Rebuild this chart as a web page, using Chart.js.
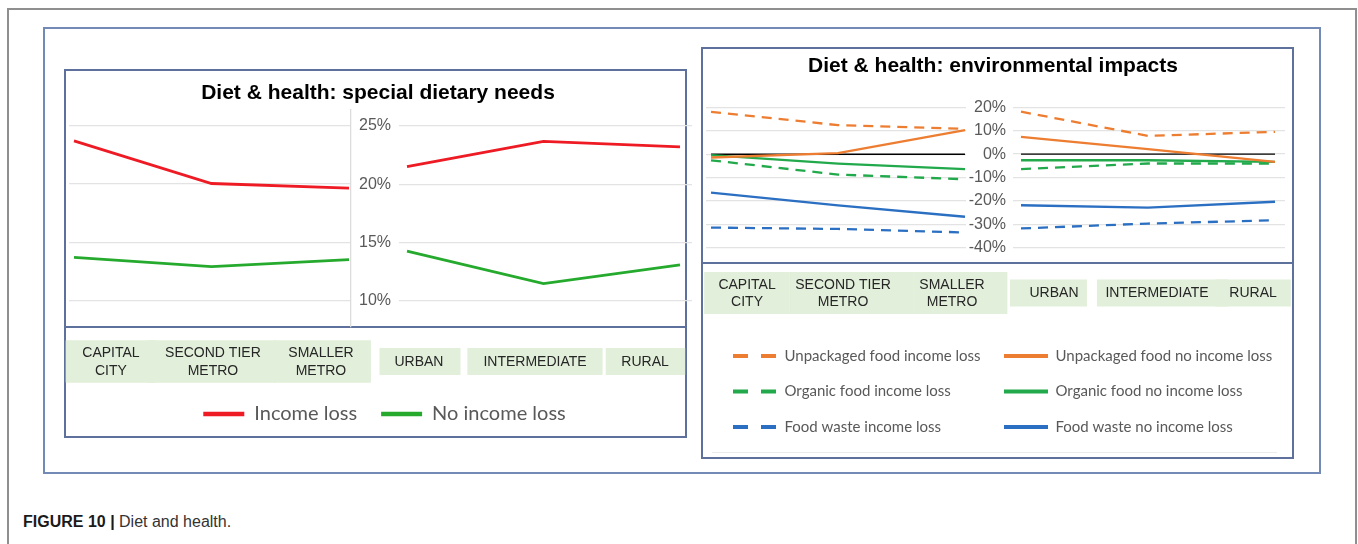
<!DOCTYPE html>
<html>
<head>
<meta charset="utf-8">
<script src="https://cdn.jsdelivr.net/npm/chart.js@4.4.1/dist/chart.umd.min.js"></script>
<style>
html,body{margin:0;padding:0;background:#fff;}
#page{position:relative;width:1358px;height:544px;overflow:hidden;background:#fff;font-family:'Liberation Sans',Arial,sans-serif;}
.abs{position:absolute;box-sizing:border-box;}
#frame{left:7px;top:8px;width:1350px;height:600px;border:2px solid #8f8f8f;}
#inner{left:43px;top:27px;width:1278px;height:447px;border:2px solid #7389b6;}
#boxL{left:64px;top:69px;width:623px;height:369px;border:2px solid #5d719c;}
#divL{left:64px;top:326px;width:623px;height:2px;background:#5d719c;}
#boxR{left:701px;top:47px;width:593px;height:412px;border:2px solid #5d719c;}
#divR{left:701px;top:262px;width:593px;height:2px;background:#5d719c;}
#faint{left:712px;top:452px;width:565px;height:1px;background:#ebebeb;}
.chart{position:absolute;}
#caption{left:23px;top:513px;font-size:16px;line-height:18px;color:#333;white-space:nowrap;}
#caption b{color:#1a1a1a;}
</style>
</head>
<body>
<div id="page">
  <div id="frame" class="abs"></div>
  <div id="inner" class="abs"></div>
  <div id="boxL" class="abs"></div>
  <div id="divL" class="abs"></div>
  <div id="boxR" class="abs"></div>
  <div id="divR" class="abs"></div>
  <div id="faint" class="abs"></div>
  <div class="chart" style="left:60px;top:100px;width:632px;height:290px;"><canvas id="cA"></canvas></div>
  <div class="chart" style="left:64px;top:65px;width:628px;height:369px;"><canvas id="cB"></canvas></div>
  <div class="chart" style="left:700px;top:90px;width:593px;height:356px;"><canvas id="cC"></canvas></div>
  <div class="chart" style="left:701px;top:48px;width:592px;height:398px;"><canvas id="cD"></canvas></div>
  <div id="caption" class="abs"><b>FIGURE 10 |</b> Diet and health.</div>
</div>
<script>
// ---------------- DATA ----------------
const metroCategories = [['CAPITAL', 'CITY'], ['SECOND TIER', 'METRO'], ['SMALLER', 'METRO']];
const ruralCategories = ['URBAN', 'INTERMEDIATE', 'RURAL'];

const specialTickLabels = ['10%', '15%', '20%', '25%'];
const envTickLabels = ['-40%', '-30%', '-20%', '-10%', '0%', '10%', '20%'];

// Diet & health: special dietary needs (%)
const incomeLossMetro   = [23.7, 20.05, 19.65];
const incomeLossRural   = [21.5, 23.67, 23.2];
const noIncomeLossMetro = [13.72, 12.93, 13.52];
const noIncomeLossRural = [14.26, 11.47, 13.07];

// Diet & health: environmental impacts (%)
const unpackagedLossMetro   = [18.1, 12.4, 10.8];
const unpackagedLossRural   = [18.1, 7.8, 9.5];
const unpackagedNoLossMetro = [-1.4, 0.5, 10.3];
const unpackagedNoLossRural = [7.4, 2.1, -3.3];
const organicLossMetro      = [-2.6, -8.7, -10.7];
const organicLossRural      = [-6.4, -4.0, -4.0];
const organicNoLossMetro    = [-0.4, -4.0, -6.4];
const organicNoLossRural    = [-2.6, -2.6, -3.3];
const wasteLossMetro        = [-31.3, -31.9, -33.4];
const wasteLossRural        = [-31.7, -29.6, -28.2];
const wasteNoLossMetro      = [-16.4, -21.8, -26.7];
const wasteNoLossRural      = [-21.8, -22.8, -20.3];
const zeroLine              = [0, 0, 0];

// ---------------- SETUP ----------------
Chart.defaults.font.family = "'Liberation Sans', Arial, sans-serif";
Chart.defaults.animation = false;
Chart.defaults.responsive = true;
Chart.defaults.maintainAspectRatio = false;
Chart.defaults.devicePixelRatio = 1;

const legendShift = {
  id: 'legendShift',
  afterLayout(chart, args, opts) {
    const lg = chart.legend;
    if (!lg || !opts) return;
    lg.left += opts.left || 0;
    lg.right += opts.right || 0;
  }
};
Chart.register(legendShift);

const RED = '#EE1B24', GREEN_L = '#25AA2E';
const ORANGE = '#ED7D31', GREEN = '#22A94B', BLUE = '#2B6FC2';
const GRID = '#E3E3E3';
const DASH = [10, 7];

const allCategories = metroCategories.concat(ruralCategories);
// label-axis slots (layout only): where the category texts and their boxes sit in each panel
const specialTextSlots = [0, 0.971, 2, 2.933, 4.038, 5.086];
const specialBoxSlots  = [-0.005, 0.962, 2.01, 2.943, 4.038, 5.09];
const envTextSlots = [0, 0.937, 2, 2.995, 4.0, 4.937];
const envBoxSlots  = [0, 1.024, 2.083, 2.941, 4.054, 4.937];

const pts = arr => arr.map((y, x) => ({x, y}));
const tickValues = labels => labels.map(t => parseFloat(t));
const baseGen = Chart.defaults.plugins.legend.labels.generateLabels;
const lineLegend = (w, dash) => chart => baseGen(chart).map(it => {
  const ds = chart.data.datasets[it.datasetIndex];
  return Object.assign({}, it, {
    lineWidth: w,
    lineDash: ds.borderDash ? dash : [],
    strokeStyle: ds.borderColor,
    pointStyle: 'line'
  });
});

// category text
function labelAxis(slots, min, max, height, pad, lh) {
  return {
    type: 'linear', position: 'bottom', min, max,
    afterBuildTicks: s => { s.ticks = slots.map(v => ({value: v})); },
    afterFit: s => { s.height = height; s.paddingLeft = 0; s.paddingRight = 0; },
    grid: {display: false, drawTicks: false},
    border: {display: false},
    ticks: {
      autoSkip: false, maxRotation: 0, minRotation: 0, padding: pad, crossAlign: 'center',
      color: '#262626', font: {size: 14, lineHeight: lh},
      callback: (v, i) => allCategories[i]
    }
  };
}
// light-green boxes behind the category text (label text itself transparent)
function boxAxis(slots, min, max, height, pad, hPad) {
  return {
    type: 'linear', position: 'bottom', min, max,
    afterBuildTicks: s => { s.ticks = slots.map(v => ({value: v})); },
    afterFit: s => { s.height = height; s.paddingLeft = 0; s.paddingRight = 0; },
    grid: {display: false, drawTicks: false},
    border: {display: false},
    ticks: {
      autoSkip: false, maxRotation: 0, minRotation: 0, padding: pad,
      color: 'rgba(0,0,0,0)', font: {size: 14, lineHeight: 15 / 14},
      callback: (v, i) => allCategories[i],
      showLabelBackdrop: true, backdropColor: '#E2EFDA',
      backdropPadding: {left: hPad, right: hPad, top: 6, bottom: 6}
    }
  };
}

function yAxis(labels, min, max, position, width, showLabels, pad) {
  return {
    position, min, max,
    afterBuildTicks: s => { s.ticks = tickValues(labels).map(v => ({value: v})); },
    afterFit: s => { s.width = width; },
    grid: {color: GRID, lineWidth: 1.3, drawTicks: false},
    border: {display: false},
    ticks: {display: showLabels, padding: pad, color: '#595959', font: {size: 16},
            callback: (v, i) => labels[i]}
  };
}

const specialSeries = (loss, noLoss) => [
  {label: 'Income loss', data: pts(loss), borderColor: RED, backgroundColor: RED, borderWidth: 2.8, pointRadius: 0},
  {label: 'No income loss', data: pts(noLoss), borderColor: GREEN_L, backgroundColor: GREEN_L, borderWidth: 2.8, pointRadius: 0}
];

const envSeries = (uL, uN, oL, oN, wL, wN) => [
  {label: 'Unpackaged food income loss', data: pts(uL), borderColor: ORANGE, backgroundColor: ORANGE, borderDash: DASH, borderWidth: 2.3, pointRadius: 0},
  {label: 'Unpackaged food no income loss', data: pts(uN), borderColor: ORANGE, backgroundColor: ORANGE, borderWidth: 2.3, pointRadius: 0},
  {label: 'Organic food income loss', data: pts(oL), borderColor: GREEN, backgroundColor: GREEN, borderDash: DASH, borderWidth: 2.3, pointRadius: 0},
  {label: 'Organic food no income loss', data: pts(oN), borderColor: GREEN, backgroundColor: GREEN, borderWidth: 2.3, pointRadius: 0},
  {label: 'Food waste income loss', data: pts(wL), borderColor: BLUE, backgroundColor: BLUE, borderDash: DASH, borderWidth: 2.3, pointRadius: 0},
  {label: 'Food waste no income loss', data: pts(wN), borderColor: BLUE, backgroundColor: BLUE, borderWidth: 2.3, pointRadius: 0},
  {label: '', data: pts(zeroLine), borderColor: '#000000', backgroundColor: '#000000', borderWidth: 1.4, pointRadius: 0}
];

const SP_MIN = 7.746, SP_MAX = 26.35;
const EN_MIN = -44.3, EN_MAX = 23.13;

// ---- Chart A: special dietary needs, metro group (+ label boxes) ----
new Chart(document.getElementById('cA'), {
  type: 'line',
  data: {datasets: specialSeries(incomeLossMetro, noIncomeLossMetro)},
  options: {
    layout: {padding: {left: 9, top: 10, right: 0, bottom: 0}},
    scales: {
      x: {type: 'linear', display: false, min: -0.0364, max: 2.0145},
      xb: boxAxis(specialBoxSlots, -0.4, 2.2857, 63, 27, 16),
      y: Object.assign(yAxis(specialTickLabels, SP_MIN, SP_MAX, 'right', 341, false, 0),
        {border: {display: true, color: '#DCDCDC', width: 1.3}})
    },
    plugins: {legend: {display: false}, title: {display: false}, tooltip: {enabled: false}}
  }
});

// ---- Chart B: special dietary needs, rural group (y axis, category text, title, legend) ----
new Chart(document.getElementById('cB'), {
  type: 'line',
  data: {datasets: specialSeries(incomeLossRural, noIncomeLossRural)},
  options: {
    layout: {padding: 0},
    scales: {
      x: {type: 'linear', display: false, min: -0.0586, max: 2.088},
      xl: labelAxis(specialTextSlots, 2.743, 5.533, 53, 26, 1.3),
      y: yAxis(specialTickLabels, SP_MIN, SP_MAX, 'left', 335, true, 8)
    },
    plugins: {
      title: {display: true, text: 'Diet & health: special dietary needs', color: '#000',
              font: {size: 21, weight: 'bold'}, padding: {top: 16, bottom: 4}},
      legend: {position: 'bottom', align: 'center',
        labels: {usePointStyle: true, pointStyle: 'line', pointStyleWidth: 41, padding: 24,
                 color: '#595959', font: {family: 'Lato', size: 20},
                 generateLabels: lineLegend(4.5, [])}},
      legendShift: {left: 6.5, right: 6.5},
      tooltip: {enabled: false}
    }
  }
});

// ---- Chart C: environmental impacts, metro group (income-loss legend, label boxes) ----
new Chart(document.getElementById('cC'), {
  type: 'line',
  data: {datasets: envSeries(unpackagedLossMetro, unpackagedNoLossMetro, organicLossMetro,
                             organicNoLossMetro, wasteLossMetro, wasteNoLossMetro)},
  options: {
    layout: {padding: {left: 6, top: 10, right: 327, bottom: 1.5}},
    scales: {
      x: {type: 'linear', display: false, min: -0.0394, max: 2.0079},
      xb: boxAxis(envBoxSlots, -0.4, 2.1366, 70, 27.5, 14),
      y: yAxis(envTickLabels, EN_MIN, EN_MAX, 'left', 0, false, 0)
    },
    plugins: {
      title: {display: false},
      legend: {position: 'bottom', align: 'start', fullSize: false,
        labels: {usePointStyle: true, pointStyle: 'line', pointStyleWidth: 44, padding: 20.5,
                 color: '#595959', font: {family: 'Lato', size: 15},
                 generateLabels: lineLegend(4, [15, 13]),
                 filter: (it, data) => { const d = data.datasets[it.datasetIndex]; return !!d.label && !!d.borderDash; }}},
      legendShift: {left: 6.5, right: 20},
      tooltip: {enabled: false}
    }
  }
});

// ---- Chart D: environmental impacts, rural group (y axis, category text, title, legend) ----
new Chart(document.getElementById('cD'), {
  type: 'line',
  data: {datasets: envSeries(unpackagedLossRural, unpackagedNoLossRural, organicLossRural,
                             organicNoLossRural, wasteLossRural, wasteNoLossRural)},
  options: {
    layout: {padding: {left: 0, top: 0, right: 8, bottom: 1.5}},
    scales: {
      x: {type: 'linear', display: false, min: -0.063, max: 2.0787},
      xl: labelAxis(envTextSlots, 2.595, 5.249, 70, 27, 1.2143),
      y: yAxis(envTickLabels, EN_MIN, EN_MAX, 'left', 312, true, 7)
    },
    plugins: {
      title: {display: true, text: 'Diet & health: environmental impacts', color: '#000',
              font: {size: 21, weight: 'bold'}, padding: {top: 6, bottom: 20.7}},
      legend: {position: 'bottom', align: 'start', fullSize: false,
        labels: {usePointStyle: true, pointStyle: 'line', pointStyleWidth: 44, padding: 20.5,
                 color: '#595959', font: {family: 'Lato', size: 15},
                 generateLabels: lineLegend(4, [15, 13]),
                 filter: (it, data) => { const d = data.datasets[it.datasetIndex]; return !!d.label && !d.borderDash; }}},
      legendShift: {left: -29.5, right: 0},
      tooltip: {enabled: false}
    }
  }
});
</script>
</body>
</html>
